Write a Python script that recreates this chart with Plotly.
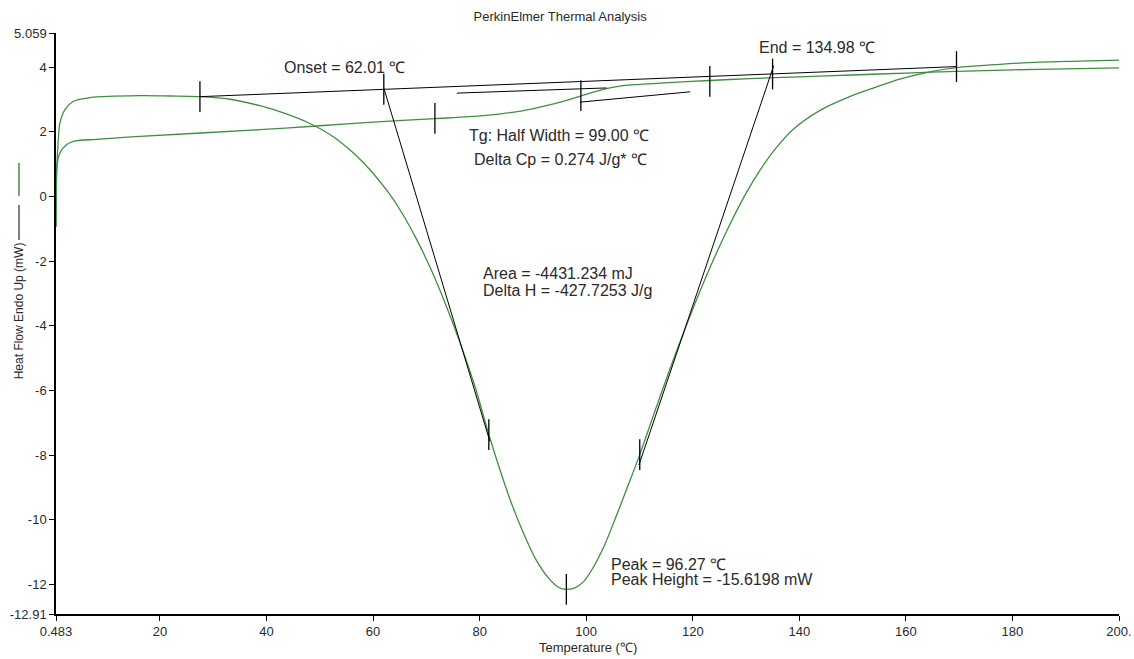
import plotly.graph_objects as go

# ---- data ----
# sample run (big exothermic peak)
temp_run1 = [0.483, 0.62, 0.85, 1.23, 2.17, 3.67, 6.9, 16.2, 22, 27.5,
             33.13, 38.76, 43.45, 48.14, 52.45, 56.21, 59.58, 62.77, 65.4, 68.21,
             71.03, 73.84, 76.47, 79.28, 81.72, 83.79, 85.85, 87.91, 90.54, 92.98,
             94.85, 96.27, 97.86, 99.55, 101.42, 103.49, 105.55, 107.8, 110.05, 112.87,
             115.68, 118.5, 121.31, 124.13, 126.94, 129.75, 132.57, 135.38, 138.76, 143.82,
             149.45, 154.14, 158.83, 164.46, 169.53, 177.6, 185.1, 192.61, 200]
flow_run1 = [-0.93, 0.83, 1.6, 2.29, 2.69, 2.94, 3.06, 3.12, 3.11, 3.09,
             3.01, 2.81, 2.57, 2.26, 1.86, 1.36, 0.80, 0.15, -0.50, -1.34,
             -2.31, -3.43, -4.59, -5.96, -7.36, -8.44, -9.43, -10.29, -11.22, -11.81,
             -12.09, -12.15, -12.1, -11.9, -11.44, -10.76, -9.92, -8.96, -7.98, -6.65,
             -5.35, -4.11, -2.94, -1.86, -0.87, 0.03, 0.80, 1.45, 2.07, 2.66,
             3.09, 3.37, 3.63, 3.86, 3.99, 4.09, 4.16, 4.19, 4.22]

# second run (glass transition step)
temp_run2 = [0.483, 0.62, 0.85, 1.23, 2.49, 3.73, 8, 16.2, 38.8, 50, 60, 71.6,
             78, 84, 88, 92.5, 96, 98.8, 101.5, 103.8, 106, 109, 114, 123.2, 130.7,
             140, 150, 160, 169.5, 180, 190, 200]
flow_run2 = [-0.93, 0.83, 1.15, 1.36, 1.61, 1.71, 1.77, 1.86, 2.07, 2.19, 2.3, 2.41,
             2.47, 2.56, 2.65, 2.81, 2.96, 3.1, 3.24, 3.34, 3.41, 3.46, 3.51, 3.59, 3.65,
             3.7, 3.76, 3.82, 3.87, 3.92, 3.95, 3.98]

# analysis construction lines (baseline, tangents, Tg extrapolations)
baseline_T = [27.5, 169.5]
baseline_Y = [3.09, 4.02]
onset_tan_T = [62.01, 81.9]
onset_tan_Y = [3.36, -7.56]
end_tan_T = [109.9, 135.2]
end_tan_Y = [-8.3, 4.05]
tg_post_T = [75.7, 103.8]
tg_post_Y = [3.2, 3.36]
tg_pre_T = [98.8, 119.5]
tg_pre_Y = [2.92, 3.24]

# analysis markers (x, y centre)
marker_T = [27.5, 62.01, 81.72, 96.27, 110.05, 134.98, 169.5, 71.6, 99.0, 123.2]
marker_Y = [3.09, 3.32, -7.36, -12.15, -7.98, 3.79, 4.02, 2.42, 3.12, 3.56]

x_tickvals = [0.483, 20, 40, 60, 80, 100, 120, 140, 160, 180, 200]
x_ticktext = ["0.483", "20", "40", "60", "80", "100", "120", "140", "160", "180", "200."]
y_tickvals = [5.059, 4, 2, 0, -2, -4, -6, -8, -10, -12, -12.91]
y_ticktext = ["5.059", "4", "2", "0", "-2", "-4", "-6", "-8", "-10", "-12", "-12.91"]

green = "#3f8f3f"
txt = "#2a2a2a"
font_main = "Liberation Sans, Arial, sans-serif"

fig = go.Figure()

fig.add_trace(go.Scatter(x=temp_run2, y=flow_run2, mode="lines",
                         line=dict(color=green, width=1.3, shape="spline", smoothing=0.8),
                         hoverinfo="skip"))
fig.add_trace(go.Scatter(x=temp_run1, y=flow_run1, mode="lines",
                         line=dict(color=green, width=1.3, shape="spline", smoothing=0.8),
                         hoverinfo="skip"))

for xs, ys in [(baseline_T, baseline_Y), (onset_tan_T, onset_tan_Y), (end_tan_T, end_tan_Y),
               (tg_post_T, tg_post_Y), (tg_pre_T, tg_pre_Y)]:
    fig.add_trace(go.Scatter(x=xs, y=ys, mode="lines",
                             line=dict(color="black", width=1), hoverinfo="skip"))

# vertical analysis ticks
fig.add_trace(go.Scatter(x=marker_T, y=marker_Y, mode="markers",
                         marker=dict(symbol="line-ns", size=22,
                                     line=dict(color="black", width=1.3)),
                         hoverinfo="skip"))

# text labels (left anchored, data coords)
labels = [
    (42.9, 3.99, "Onset = 62.01 ℃"),
    (132.0, 4.6, "End = 134.98 ℃"),
    (77.6, 1.89, "Tg: Half Width = 99.00 ℃"),
    (78.5, 1.14, "Delta Cp = 0.274 J/g* ℃"),
    (80.2, -2.38, "Area = -4431.234 mJ"),
    (80.2, -2.9, "Delta H = -427.7253 J/g"),
    (104.2, -11.38, "Peak = 96.27 ℃"),
    (104.2, -11.84, "Peak Height = -15.6198 mW"),
]
for lx, ly, lt in labels:
    fig.add_annotation(x=lx, y=ly, text=lt, showarrow=False, xanchor="left",
                       yanchor="middle", font=dict(size=16, color=txt, family=font_main))

# axis titles
fig.add_annotation(xref="paper", yref="paper", x=-0.0348, y=0.521, text="Heat Flow Endo Up (mW)",
                   textangle=-90, showarrow=False, xanchor="center", yanchor="middle",
                   font=dict(size=12, color=txt, family=font_main))
fig.add_annotation(xref="paper", yref="paper", x=0.5, y=-0.0568, text="Temperature (℃)",
                   showarrow=False, xanchor="center", yanchor="middle",
                   font=dict(size=13, color=txt, family=font_main))
# run swatches beside the y title
fig.add_shape(type="line", xref="paper", yref="paper", x0=-0.0348, x1=-0.0348,
              y0=(614 - 240) / 581, y1=(614 - 205) / 581, line=dict(color="black", width=1))
fig.add_shape(type="line", xref="paper", yref="paper", x0=-0.0348, x1=-0.0348,
              y0=(614 - 196) / 581, y1=(614 - 163) / 581, line=dict(color=green, width=1.5))

fig.update_layout(
    width=1134, height=659,
    margin=dict(l=56, r=15, t=33, b=45),
    paper_bgcolor="white", plot_bgcolor="white",
    showlegend=False,
    font=dict(family=font_main, size=13, color=txt),
    title=dict(text="PerkinElmer Thermal Analysis", x=0.494, xanchor="center", y=0.975,
               yanchor="middle", font=dict(size=13, color=txt)),
)
fig.update_xaxes(range=[0.483, 200], tickvals=x_tickvals, ticktext=x_ticktext,
                 showline=True, linecolor="black", linewidth=1.5, ticks="outside",
                 ticklen=5, tickcolor="black", showgrid=False, zeroline=False,
                 tickfont=dict(size=13), automargin=False)
fig.update_yaxes(range=[-12.91, 5.059], tickvals=y_tickvals, ticktext=y_ticktext,
                 showline=True, linecolor="black", linewidth=1.5, ticks="outside",
                 ticklen=5, tickcolor="black", showgrid=False, zeroline=False,
                 tickfont=dict(size=13), automargin=False)

fig.write_html("out.html", config={"displayModeBar": False},
               post_script="document.body.style.margin='0';document.body.style.overflow='hidden';")
